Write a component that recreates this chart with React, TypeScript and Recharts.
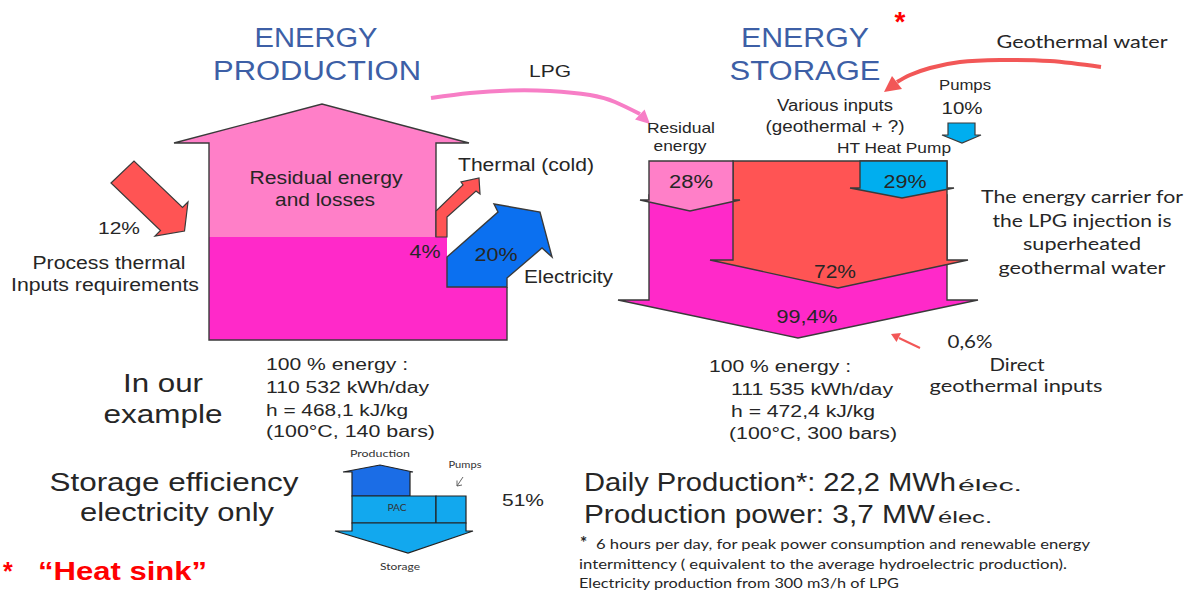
import React from 'react';
import { ComposedChart, XAxis, YAxis, ReferenceArea, Scatter, Line } from 'recharts';

const W = 1190;
const H = 593;

// ---------- values ----------
const productionFlows = ['Process thermal', 'Thermal (cold)', 'Electricity'];
const productionShares = [12, 4, 20];
const storageFlows = ['Residual energy', 'HT Heat Pump', 'Various inputs', 'Pumps', 'Stored energy', 'Direct geothermal inputs'];
const storageShares = [28, 29, 72, 10, 99.4, 0.6];
const storageEfficiency = [51];
const productionFacts = ['100 % energy :', '110 532 kWh/day', 'h = 468,1 kJ/kg', '(100°C, 140 bars)'];
const storageFacts = ['100 % energy :', '111 535 kWh/day', 'h = 472,4 kJ/kg', '(100°C, 300 bars)'];
const outputFacts = ['Daily Production*: 22,2 MWh', 'Production power: 3,7 MW'];
const footnoteLines = [
  ' 6 hours per day, for peak power consumption and renewable energy',
  'intermittency ( equivalent  to the average hydroelectric  production).',
  'Electricity production from 300 m3/h of LPG',
];
const carrierLines = ['The energy carrier for', 'the LPG injection is', 'superheated', 'geothermal water'];

const pct = (v: number) => `${String(v).replace('.', ',')}%`;

// ---------- styles ----------
const AR = "'Liberation Sans', Arial, sans-serif";
const CA = "Lato, 'Open Sans', sans-serif";
const COL = {
  pink: '#FF7FC8',
  magenta: '#FF29C9',
  red: '#FF5454',
  blue: '#0B70F0',
  cyan: '#00AEEF',
  title: '#3D5FA6',
  ink: '#262626',
  line: '#3A3A3A',
  dark: '#1B6DE6',
  light: '#12A8EE',
  lpg: '#F77EC6',
  geo: '#F25757',
};

type Pt = [number, number];
type ShapeDef = { pts: Pt[]; fill: string; stroke?: string; sw?: number; closed?: boolean };

// ---------- geometry (layout) ----------
const prodPink: Pt[] = [[209, 237], [209, 143], [174, 143], [322, 104], [469, 143], [436, 143], [436, 237]];
const prodMagenta: Pt[] = [[209, 237], [447, 237], [447, 287], [507, 287], [507, 340], [209, 340]];
const prodOutline: Pt[] = [[436, 237], [436, 143], [469, 143], [322, 104], [174, 143], [209, 143], [209, 340], [507, 340], [507, 287]];
const arrow12: Pt[] = [[111, 183], [134, 161], [182.5, 207.5], [188, 202], [184.5, 231], [155, 236], [160.5, 230.5]];
const thermal: Pt[] = [[436, 237], [436, 211], [463, 185], [461, 182], [479, 178], [480, 194], [476, 191], [447, 217], [447, 237]];
const elec: Pt[] = [[447, 287], [447, 257], [498, 212], [494, 204], [540, 212], [552, 257], [542, 248], [507, 278], [507, 287]];

const stMagenta: Pt[] = [[649, 195], [947, 195], [947, 300], [978, 300], [798, 338], [618, 300], [649, 300]];
const stRed: Pt[] = [[733, 161], [947, 161], [947, 260], [968, 260], [838, 288], [710, 260], [733, 260]];
const stPink: Pt[] = [[649, 161], [733, 161], [733, 200], [740, 200], [690, 211], [640, 200], [649, 200]];
const stBlue: Pt[] = [[860, 161], [947, 161], [947, 188], [954, 188], [902, 198], [850, 188], [860, 188]];
const pumpArrow: Pt[] = [[948, 123], [975, 123], [975, 135], [981, 135], [962, 143], [942, 135], [948, 135]];

const lpgHead: Pt[] = [[650, 124], [635, 119.6], [644.6, 109.4]];
const geoHead: Pt[] = [[884, 92], [892, 76], [902, 89]];
const smallHead: Pt[] = [[891, 334], [901, 333], [896.5, 342]];

const schTop: Pt[] = [[352, 496], [352, 472], [343, 472], [380, 465], [413, 472], [410, 472], [410, 496]];
const schPac: Pt[] = [[352, 496], [436, 496], [436, 523], [352, 523]];
const schPump: Pt[] = [[436, 496], [466, 496], [466, 523], [436, 523]];
const schBottom: Pt[] = [[352, 523], [466, 523], [466, 531], [473, 531], [408, 553], [335, 531], [352, 531]];
const schPumpTick: Pt[] = [[463, 477], [457, 486]];
const schPumpTickHead: Pt[] = [[457, 480.5], [457, 486], [462, 485]];

const lpgCurve = [
  { x: 431, y: 98 }, { x: 470, y: 93 }, { x: 510, y: 90.5 }, { x: 550, y: 91 },
  { x: 590, y: 95 }, { x: 615, y: 102 }, { x: 640, y: 114 },
];
const geoCurve = [
  { x: 1101, y: 67 }, { x: 1050, y: 61 }, { x: 1000, y: 60 }, { x: 960, y: 62 },
  { x: 930, y: 68 }, { x: 910, y: 75 }, { x: 897, y: 82 },
];
const smallCurve = [{ x: 920, y: 348 }, { x: 899, y: 338 }];

const S = COL.line;
const shapes: ShapeDef[] = [
  { pts: prodPink, fill: COL.pink },
  { pts: prodMagenta, fill: COL.magenta },
  { pts: prodOutline, fill: 'none', stroke: S, sw: 1.4, closed: false },
  { pts: arrow12, fill: COL.red, stroke: S, sw: 1.2 },
  { pts: thermal, fill: COL.red, stroke: S, sw: 1.2 },
  { pts: elec, fill: COL.blue, stroke: S, sw: 1.4 },
  { pts: stMagenta, fill: COL.magenta, stroke: S, sw: 1.4 },
  { pts: stRed, fill: COL.red, stroke: S, sw: 1.4 },
  { pts: stPink, fill: COL.pink, stroke: S, sw: 1.4 },
  { pts: stBlue, fill: COL.cyan, stroke: S, sw: 1.4 },
  { pts: pumpArrow, fill: COL.cyan, stroke: S, sw: 1.2 },
  { pts: lpgHead, fill: COL.lpg },
  { pts: geoHead, fill: COL.geo },
  { pts: smallHead, fill: COL.geo },
  { pts: schTop, fill: COL.dark, stroke: '#222', sw: 1.2 },
  { pts: schPac, fill: COL.light, stroke: '#222', sw: 1.2 },
  { pts: schPump, fill: COL.light, stroke: '#222', sw: 1.2 },
  { pts: schBottom, fill: COL.light, stroke: '#222', sw: 1.2 },
  { pts: schPumpTick, fill: 'none', stroke: '#555', sw: 0.9, closed: false },
  { pts: schPumpTickHead, fill: 'none', stroke: '#555', sw: 0.9, closed: false },
];

type TextItem = { x: number; y: number; t: string; s: number; f?: string; a?: 'start' | 'middle' | 'end'; w?: number; c?: string; b?: boolean };

const texts: TextItem[] = [
  { x: 316, y: 47, t: 'ENERGY', s: 27, c: COL.title, w: 123 },
  { x: 317, y: 80, t: 'PRODUCTION', s: 27, c: COL.title, w: 208 },
  { x: 805, y: 47, t: 'ENERGY', s: 27, c: COL.title, w: 128 },
  { x: 805, y: 80, t: 'STORAGE', s: 27, c: COL.title, w: 151 },
  { x: 900, y: 31, t: '*', s: 28, c: '#FF0000', b: true },
  { x: 550, y: 77, t: 'LPG', s: 17, w: 42 },
  { x: 326, y: 184, t: 'Residual energy', s: 17.5, w: 153 },
  { x: 325, y: 206, t: 'and losses', s: 17.5, w: 100 },
  { x: 458, y: 171, t: productionFlows[1], s: 17.5, a: 'start', w: 136 },
  { x: 425, y: 258, t: pct(productionShares[1]), s: 17.5, w: 31 },
  { x: 496, y: 261, t: pct(productionShares[2]), s: 18, w: 43 },
  { x: 524, y: 283, t: productionFlows[2], s: 17.5, a: 'start', w: 89 },
  { x: 119, y: 234, t: pct(productionShares[0]), s: 17, w: 42 },
  { x: 109, y: 269, t: productionFlows[0], s: 17.5, w: 153 },
  { x: 105, y: 291, t: 'Inputs requirements', s: 17.5, w: 188 },
  { x: 163, y: 392, t: 'In our', s: 26, w: 80 },
  { x: 163, y: 423, t: 'example', s: 26, w: 119 },
  { x: 266, y: 370, t: productionFacts[0], s: 16, a: 'start', w: 142 },
  { x: 266, y: 393, t: productionFacts[1], s: 16, a: 'start', w: 163 },
  { x: 266, y: 416, t: productionFacts[2], s: 16, a: 'start', w: 142 },
  { x: 266, y: 437, t: productionFacts[3], s: 16, a: 'start', w: 169 },
  { x: 174, y: 491, t: 'Storage efficiency', s: 26, w: 249 },
  { x: 177, y: 521, t: 'electricity only', s: 26, w: 194 },
  { x: 3, y: 580, t: '*', s: 25, a: 'start', c: '#FF0000', b: true },
  { x: 38, y: 580, t: '“Heat sink”', s: 25, a: 'start', c: '#FF0000', b: true, w: 169 },
  { x: 523, y: 506, t: pct(storageEfficiency[0]), s: 17, w: 42 },
  { x: 380, y: 457, t: 'Production', s: 9, f: CA, w: 60, c: '#333' },
  { x: 397, y: 511, t: 'PAC', s: 9, f: CA, w: 19, c: '#333' },
  { x: 400, y: 570, t: 'Storage', s: 9, f: CA, w: 40, c: '#333' },
  { x: 465, y: 468, t: 'Pumps', s: 9, f: CA, w: 33, c: '#333' },
  { x: 1082, y: 48, t: 'Geothermal water', s: 18, f: CA, w: 171 },
  { x: 965, y: 90, t: storageFlows[3], s: 15, w: 52 },
  { x: 962, y: 114, t: pct(storageShares[3]), s: 17, w: 41 },
  { x: 835, y: 111, t: storageFlows[2], s: 16, w: 116 },
  { x: 835, y: 132, t: '(geothermal + ?)', s: 16, w: 139 },
  { x: 681, y: 133, t: 'Residual', s: 15, w: 68 },
  { x: 680, y: 151, t: 'energy', s: 15, w: 53 },
  { x: 894, y: 153, t: storageFlows[1], s: 15, w: 114 },
  { x: 691, y: 188, t: pct(storageShares[0]), s: 18, w: 44 },
  { x: 905, y: 188, t: pct(storageShares[1]), s: 18, w: 43 },
  { x: 835, y: 278, t: pct(storageShares[2]), s: 18, w: 42 },
  { x: 807, y: 323, t: pct(storageShares[4]), s: 18, w: 61 },
  { x: 970, y: 348, t: pct(storageShares[5]), s: 17, f: CA, w: 45 },
  ...carrierLines.map((t, i) => ({ x: 1082, y: [203, 227, 250, 274][i], t, s: 18, f: CA, w: [202, 179, 118, 167][i] })),
  { x: 709, y: 372, t: storageFacts[0], s: 16, a: 'start', w: 142 },
  { x: 731, y: 395, t: storageFacts[1], s: 16, a: 'start', w: 162 },
  { x: 731, y: 417, t: storageFacts[2], s: 16, a: 'start', w: 144 },
  { x: 729, y: 439, t: storageFacts[3], s: 16, a: 'start', w: 168 },
  { x: 1017, y: 371, t: 'Direct', s: 17, f: CA, w: 55 },
  { x: 1016, y: 392, t: 'geothermal inputs', s: 17, f: CA, w: 173 },
  { x: 584, y: 491, t: outputFacts[0], s: 25, a: 'start', w: 372 },
  { x: 958, y: 491, t: 'élec.', s: 17, a: 'start', w: 64 },
  { x: 584, y: 523, t: outputFacts[1], s: 25, a: 'start', w: 351 },
  { x: 938, y: 523, t: 'élec.', s: 17, a: 'start', w: 54 },
  { x: 580, y: 549, t: '*', s: 17, f: CA, a: 'start', b: true },
  { x: 596, y: 549, t: footnoteLines[0], s: 13, f: CA, a: 'start', w: 494 },
  { x: 579, y: 569, t: footnoteLines[1], s: 13, f: CA, a: 'start', w: 488 },
  { x: 579, y: 588, t: footnoteLines[2], s: 13, f: CA, a: 'start', w: 320 },
];

function renderPoly(def: ShapeDef, key: string) {
  const xs = def.pts.map((p) => p[0]);
  const ys = def.pts.map((p) => p[1]);
  const x1 = Math.min(...xs);
  const x2 = Math.max(...xs);
  const y1 = Math.min(...ys);
  const y2 = Math.max(...ys);
  const shape = (p: any) => {
    const { x, y, width, height } = p;
    const sx = (v: number) => x + (x2 === x1 ? 0 : ((v - x1) / (x2 - x1)) * width);
    const sy = (v: number) => y + (y2 === y1 ? 0 : ((v - y1) / (y2 - y1)) * height);
    const d = def.pts.map((q, i) => `${i ? 'L' : 'M'}${sx(q[0]).toFixed(2)},${sy(q[1]).toFixed(2)}`).join('') + (def.closed === false ? '' : 'Z');
    return <path d={d} fill={def.fill} stroke={def.stroke || 'none'} strokeWidth={def.sw || 1} strokeLinejoin="miter" />;
  };
  return <ReferenceArea key={key} x1={x1} x2={x2} y1={y1} y2={y2} shape={shape} ifOverflow="visible" />;
}

const renderText = (p: any) => {
  const d: TextItem = p.payload;
  if (p.cx == null || p.cy == null) return <g />;
  return (
    <text
      x={p.cx}
      y={p.cy}
      textAnchor={d.a || 'middle'}
      fontFamily={d.f || AR}
      fontSize={d.s}
      fontWeight={d.b ? 700 : 400}
      fill={d.c || COL.ink}
      textLength={d.w}
      lengthAdjust={d.w ? 'spacingAndGlyphs' : undefined}
    >
      {d.t}
    </text>
  );
};

export default function App() {
  return (
    <div style={{ position: 'absolute', left: 0, top: 0, width: W, height: H, background: '#fff' }}>
      <ComposedChart width={W} height={H} margin={{ top: 0, right: 0, bottom: 0, left: 0 }}>
        <XAxis type="number" dataKey="x" domain={[0, W]} hide allowDataOverflow />
        <YAxis type="number" dataKey="y" domain={[0, H]} reversed hide allowDataOverflow />
        {shapes.map((s, i) => renderPoly(s, `s${i}`))}
        <Line data={lpgCurve} dataKey="y" type="natural" stroke={COL.lpg} strokeWidth={4} dot={false} activeDot={false} isAnimationActive={false} />
        <Line data={geoCurve} dataKey="y" type="natural" stroke={COL.geo} strokeWidth={4} dot={false} activeDot={false} isAnimationActive={false} />
        <Line data={smallCurve} dataKey="y" type="linear" stroke={COL.geo} strokeWidth={2} dot={false} activeDot={false} isAnimationActive={false} />
        <Scatter data={texts} dataKey="y" shape={renderText} isAnimationActive={false} />
      </ComposedChart>
    </div>
  );
}
